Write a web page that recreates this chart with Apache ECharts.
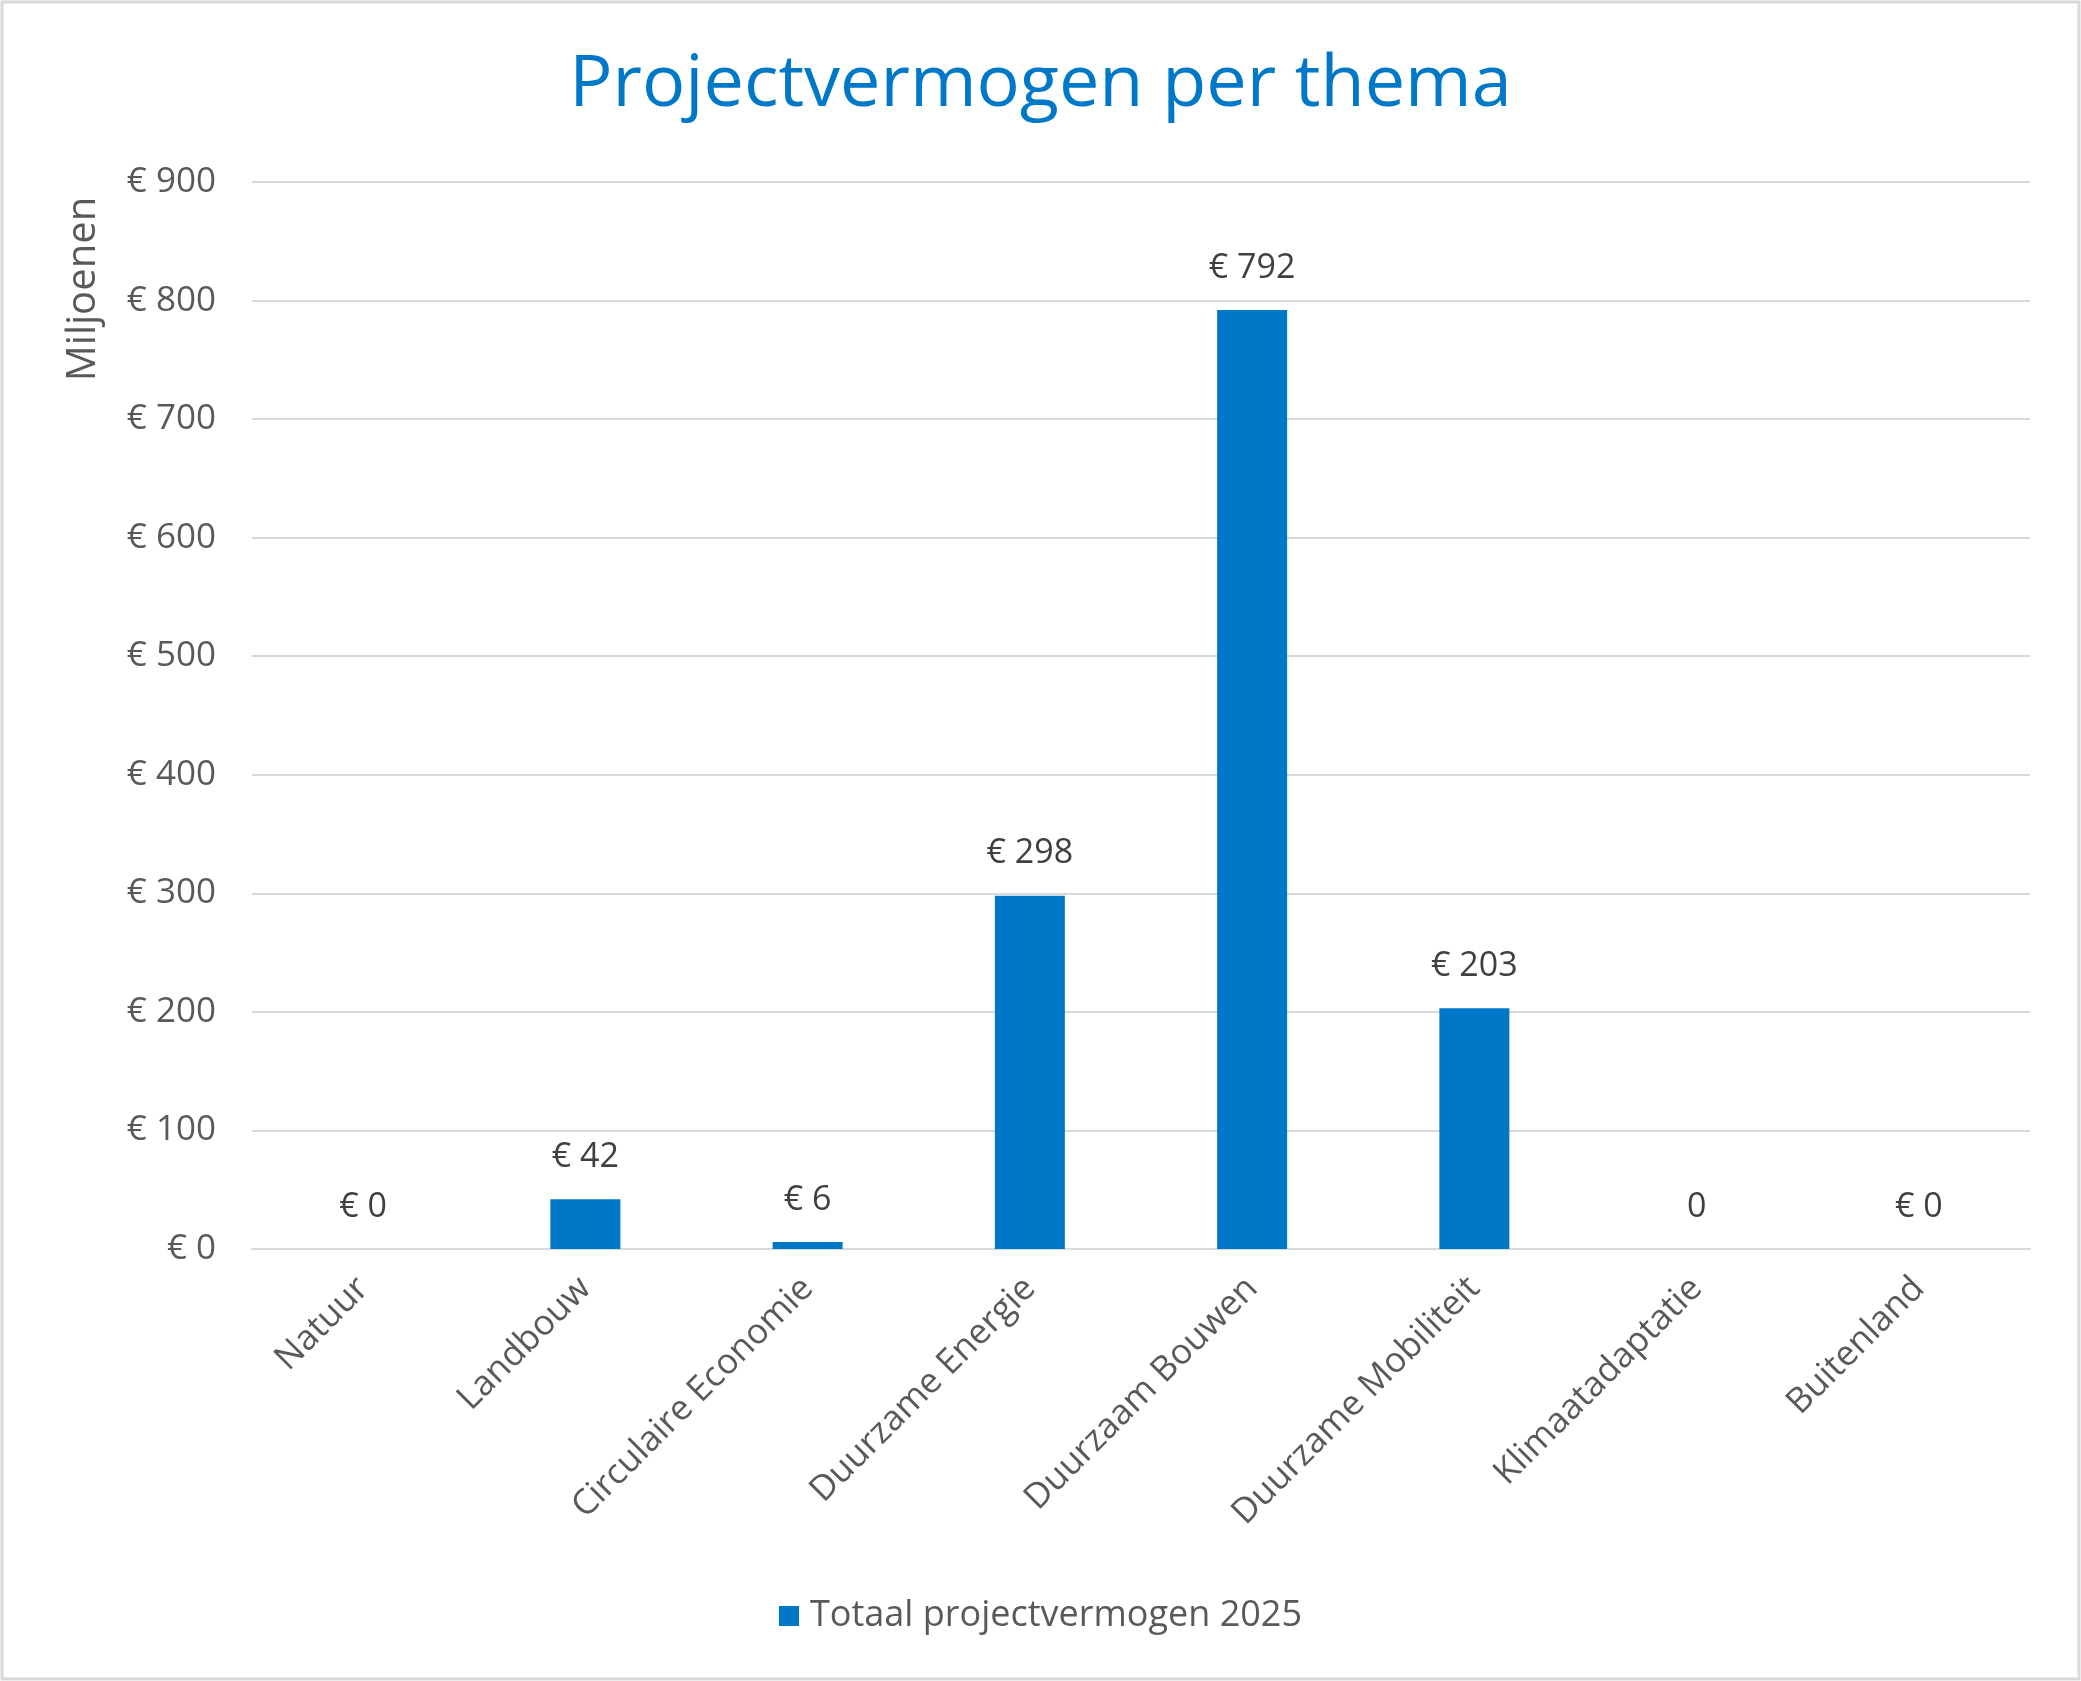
<!DOCTYPE html>
<html><head><meta charset="utf-8">
<script src="https://cdn.jsdelivr.net/npm/echarts@6/dist/echarts.min.js"></script>
<style>html,body{margin:0;padding:0;background:#fff}#c{width:2081px;height:1681px}</style>
</head><body><div id="c"></div>
<script>
const categories = ["Natuur","Landbouw","Circulaire Economie","Duurzame Energie","Duurzaam Bouwen","Duurzame Mobiliteit","Klimaatadaptatie","Buitenland"];
const values = [0, 42, 6, 298, 792, 203, 0, 0];
const dataLabels = ["€ 0","€ 42","€ 6","€ 298","€ 792","€ 203","0","€ 0"];
const yTicks = [0,100,200,300,400,500,600,700,800,900];
const seriesName = "Totaal projectvermogen 2025";
const titleText = "Projectvermogen per thema";
const yAxisTitle = "Miljoenen";

const chart = echarts.init(document.getElementById('c'), null, {renderer:'canvas'});
chart.setOption({
  backgroundColor:'#fff',
  animation:false,
  graphic:[
    {type:'rect',shape:{x:2,y:2,width:2077,height:1677},style:{fill:'none',stroke:'#d9d9d9',lineWidth:3},silent:true},
    {type:'text',x:84,y:289,rotation:Math.PI/2,silent:true,
      style:{text:yAxisTitle,fontFamily:'Open Sans',fontSize:40,fill:'#595959',align:'center',verticalAlign:'middle'}}
  ],
  title:{text:titleText,left:'center',top:44,textStyle:{fontFamily:'Open Sans',fontWeight:'normal',fontSize:72,color:'#0078C8'}},
  legend:{bottom:42,left:'center',itemWidth:20,itemHeight:20,itemGap:10,icon:'rect',
    textStyle:{fontFamily:'Open Sans',fontSize:36,color:'#595959',padding:[0,0,0,6]}},
  grid:{left:252,right:51,top:182,bottom:432,containLabel:false},
  xAxis:{type:'category',data:categories,
    axisLine:{show:true,lineStyle:{color:'#d9d9d9',width:2}},axisTick:{show:false},
    axisLabel:{rotate:45,fontFamily:'Open Sans',fontSize:35,color:'#595959',margin:34,interval:0}},
  yAxis:{type:'value',min:yTicks[0],max:yTicks[yTicks.length-1],interval:100,
    axisLine:{show:false},axisTick:{show:false},
    splitLine:{lineStyle:{color:'#d9d9d9',width:2}},
    axisLabel:{fontFamily:'Open Sans',fontSize:35,color:'#595959',margin:36,formatter:v=>'€ '+v}},
  series:[{name:seriesName,type:'bar',data:values,barWidth:'31.5%',
    itemStyle:{color:'#0078C8'},
    label:{show:true,position:'top',distance:25,fontFamily:'Open Sans',fontSize:34,color:'#404040',
      formatter:p=>dataLabels[p.dataIndex]}}]
});
</script></body></html>
